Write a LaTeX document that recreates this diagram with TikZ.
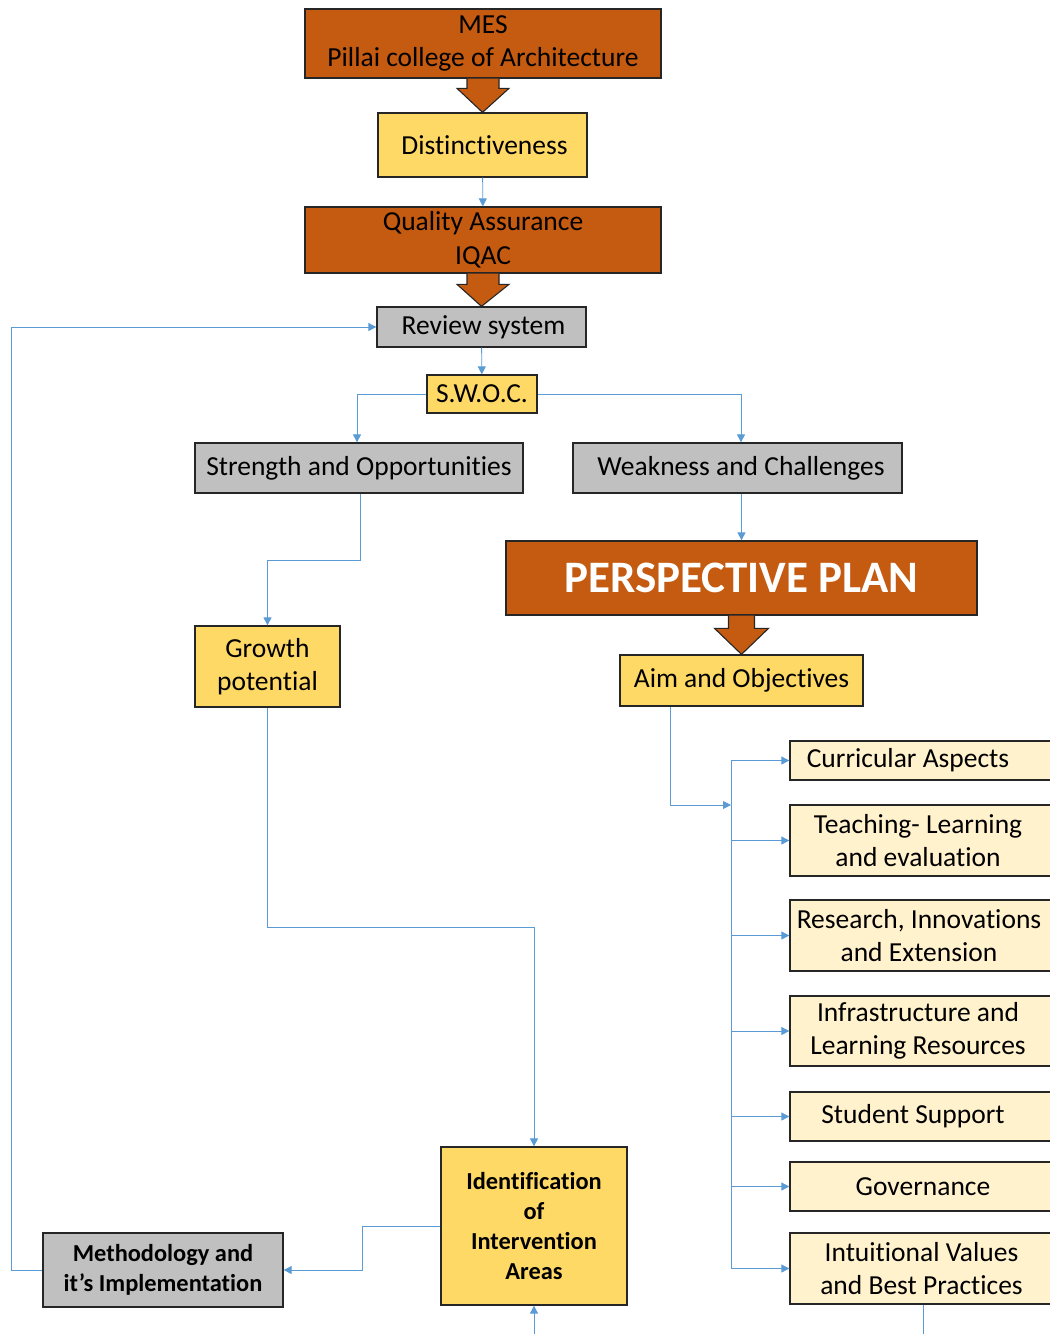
\documentclass[tikz,border=0pt]{standalone}
\usepackage{fontspec}
\setmainfont[Ligatures={NoCommon}]{Carlito}
\usetikzlibrary{arrows.meta,calc}
\definecolor{brn}{HTML}{C55A11}
\definecolor{yel}{HTML}{FFD966}
\definecolor{lyel}{HTML}{FFF2CC}
\definecolor{gry}{HTML}{C0C0C0}
\definecolor{lnk}{HTML}{5B9BD5}
\begin{document}
\begin{tikzpicture}[x=1pt,y=-1pt,
 box/.style={draw=black!85, line width=1.3pt, inner sep=0pt, align=center, font=\fontsize{27.5}{33.5}\selectfont},
 boldbox/.style={box, font=\fontsize{24.4}{29.7}\selectfont\bfseries},
 link/.style={draw=lnk, line width=0.9pt, -{Triangle[width=8pt,length=8pt]}},
 plain/.style={draw=lnk, line width=0.9pt},
 barrow/.style={fill=brn, draw=black!85, line width=1.1pt, line join=miter}]
\useasboundingbox (0,0) rectangle (1050,1334);
\clip (0,0) rectangle (1050,1334);
% top column
\node[box, fill=brn, minimum width=356pt, minimum height=69pt] (mes) at (483,43.5) {MES\\Pillai college of Architecture};
\node[box, fill=yel, minimum width=209pt, minimum height=64pt] (dist) at (482.5,145) {\hspace*{4pt}Distinctiveness};
\node[box, fill=brn, minimum width=356pt, minimum height=66pt] (qa) at (483,240) {Quality Assurance\\IQAC};
\node[box, fill=gry, minimum width=209pt, minimum height=40pt] (rev) at (481.5,327) {\hspace*{4pt}Review system};
\node[box, fill=yel, minimum width=110pt, minimum height=38pt] (swoc) at (482,394) {S.W.O.C.};
\node[box, fill=gry, minimum width=328pt, minimum height=50pt] (str) at (359,468) {Strength and Opportunities};
\node[box, fill=gry, minimum width=329pt, minimum height=50pt] (weak) at (737.5,468) {\hspace*{7pt}Weakness and Challenges};
\node[box, fill=brn, text=white, minimum width=471pt, minimum height=74pt, font=\fontsize{45}{50}\selectfont\bfseries] (pp) at (741.5,578) {PERSPECTIVE PLAN};
\node[box, fill=yel, minimum width=243pt, minimum height=51pt] (aim) at (741.5,680.5) {Aim and Objectives};
\node[box, fill=yel, minimum width=145pt, minimum height=81pt] (growth) at (267.5,666.5) {Growth\\potential};
\node[boldbox, fill=yel, minimum width=186pt, minimum height=158pt] (ident) at (534,1226) {Identification\\of\\Intervention\\Areas};
\node[boldbox, fill=gry, minimum width=240pt, minimum height=74pt] (meth) at (163,1270) {Methodology and\\it’s Implementation};
% right column
\node[box, fill=lyel, minimum width=266pt, minimum height=39pt] (curr) at (923,760.5) {Curricular Aspects\hspace*{30pt}};
\node[box, fill=lyel, minimum width=266pt, minimum height=71pt] (teach) at (923,840.5) {Teaching- Learning\hspace*{10pt}\\and evaluation\hspace*{10pt}};
\node[box, fill=lyel, minimum width=266pt, minimum height=71pt] (res) at (923,935.5) {Research, Innovations\hspace*{8pt}\\and Extension\hspace*{8pt}};
\node[box, fill=lyel, minimum width=266pt, minimum height=70pt] (infra) at (923,1031) {Infrastructure and\hspace*{10pt}\\Learning Resources\hspace*{10pt}};
\node[box, fill=lyel, minimum width=266pt, minimum height=49pt] (stud) at (923,1116.5) {Student Support\hspace*{20pt}};
\node[box, fill=lyel, minimum width=266pt, minimum height=49pt] (gov) at (923,1186.5) {Governance};
\node[box, fill=lyel, minimum width=266pt, minimum height=71pt] (intu) at (923,1268.5) {Intuitional Values\hspace*{3pt}\\and Best Practices\hspace*{3pt}};
% block arrows
\draw[barrow] let \p1=(mes.south), \p2=(dist.north) in
  (\x1-16pt,\y1) -- (\x1-16pt,\y2+24pt) -- (\x1-26pt,\y2+24pt) -- (\x2,\y2) -- (\x1+26pt,\y2+24pt) -- (\x1+16pt,\y2+24pt) -- (\x1+16pt,\y1);
\draw[barrow] let \p1=(qa.south), \p2=(rev.north) in
  (\x1-16pt,\y1) -- (\x1-16pt,\y2+22pt) -- (\x1-26pt,\y2+22pt) -- (\x2,\y2) -- (\x1+26pt,\y2+22pt) -- (\x1+16pt,\y2+22pt) -- (\x1+16pt,\y1);
\draw[barrow] let \p1=(pp.south), \p2=(aim.north) in
  (\x1-13pt,\y1) -- (\x1-13pt,\y2+26pt) -- (\x1-27pt,\y2+26pt) -- (\x2,\y2) -- (\x1+27pt,\y2+26pt) -- (\x1+13pt,\y2+26pt) -- (\x1+13pt,\y1);
% connectors
\coordinate (bot) at (0,1340);
\coordinate (t) at (731,805);
\draw[link] (dist) -- (qa);
\draw[link] (rev) -- (swoc);
\draw[link] (swoc.west) -| ([xshift=-2pt]str.north);
\draw[link] (swoc.east) -| ([xshift=3.5pt]weak.north);
\draw[link] (pp.north |- weak.south) -- (pp.north);
\draw[link] ([xshift=1pt]str.south) -- ++(0,67) -| (growth.north);
\draw[link] (growth.south) -- ++(0,220) -| (ident.north);
\draw[link] (ident.west) -- ++(-78,0) |- (meth.east);
\draw[link] (meth.west) -- ++(-31,0) |- (rev.west);
\draw[link] ([xshift=-71.5pt]aim.south) |- (t);
\draw[plain] (curr.west -| t) -- (intu.west -| t);
\foreach \n in {curr,teach,res,infra,stud,gov,intu}
  \draw[link] (\n.west -| t) -- (\n.west);
\draw[link] (ident.south |- bot) -- (ident.south);
\draw[plain] (intu.south) -- (intu.south |- bot);
\end{tikzpicture}
\end{document}
